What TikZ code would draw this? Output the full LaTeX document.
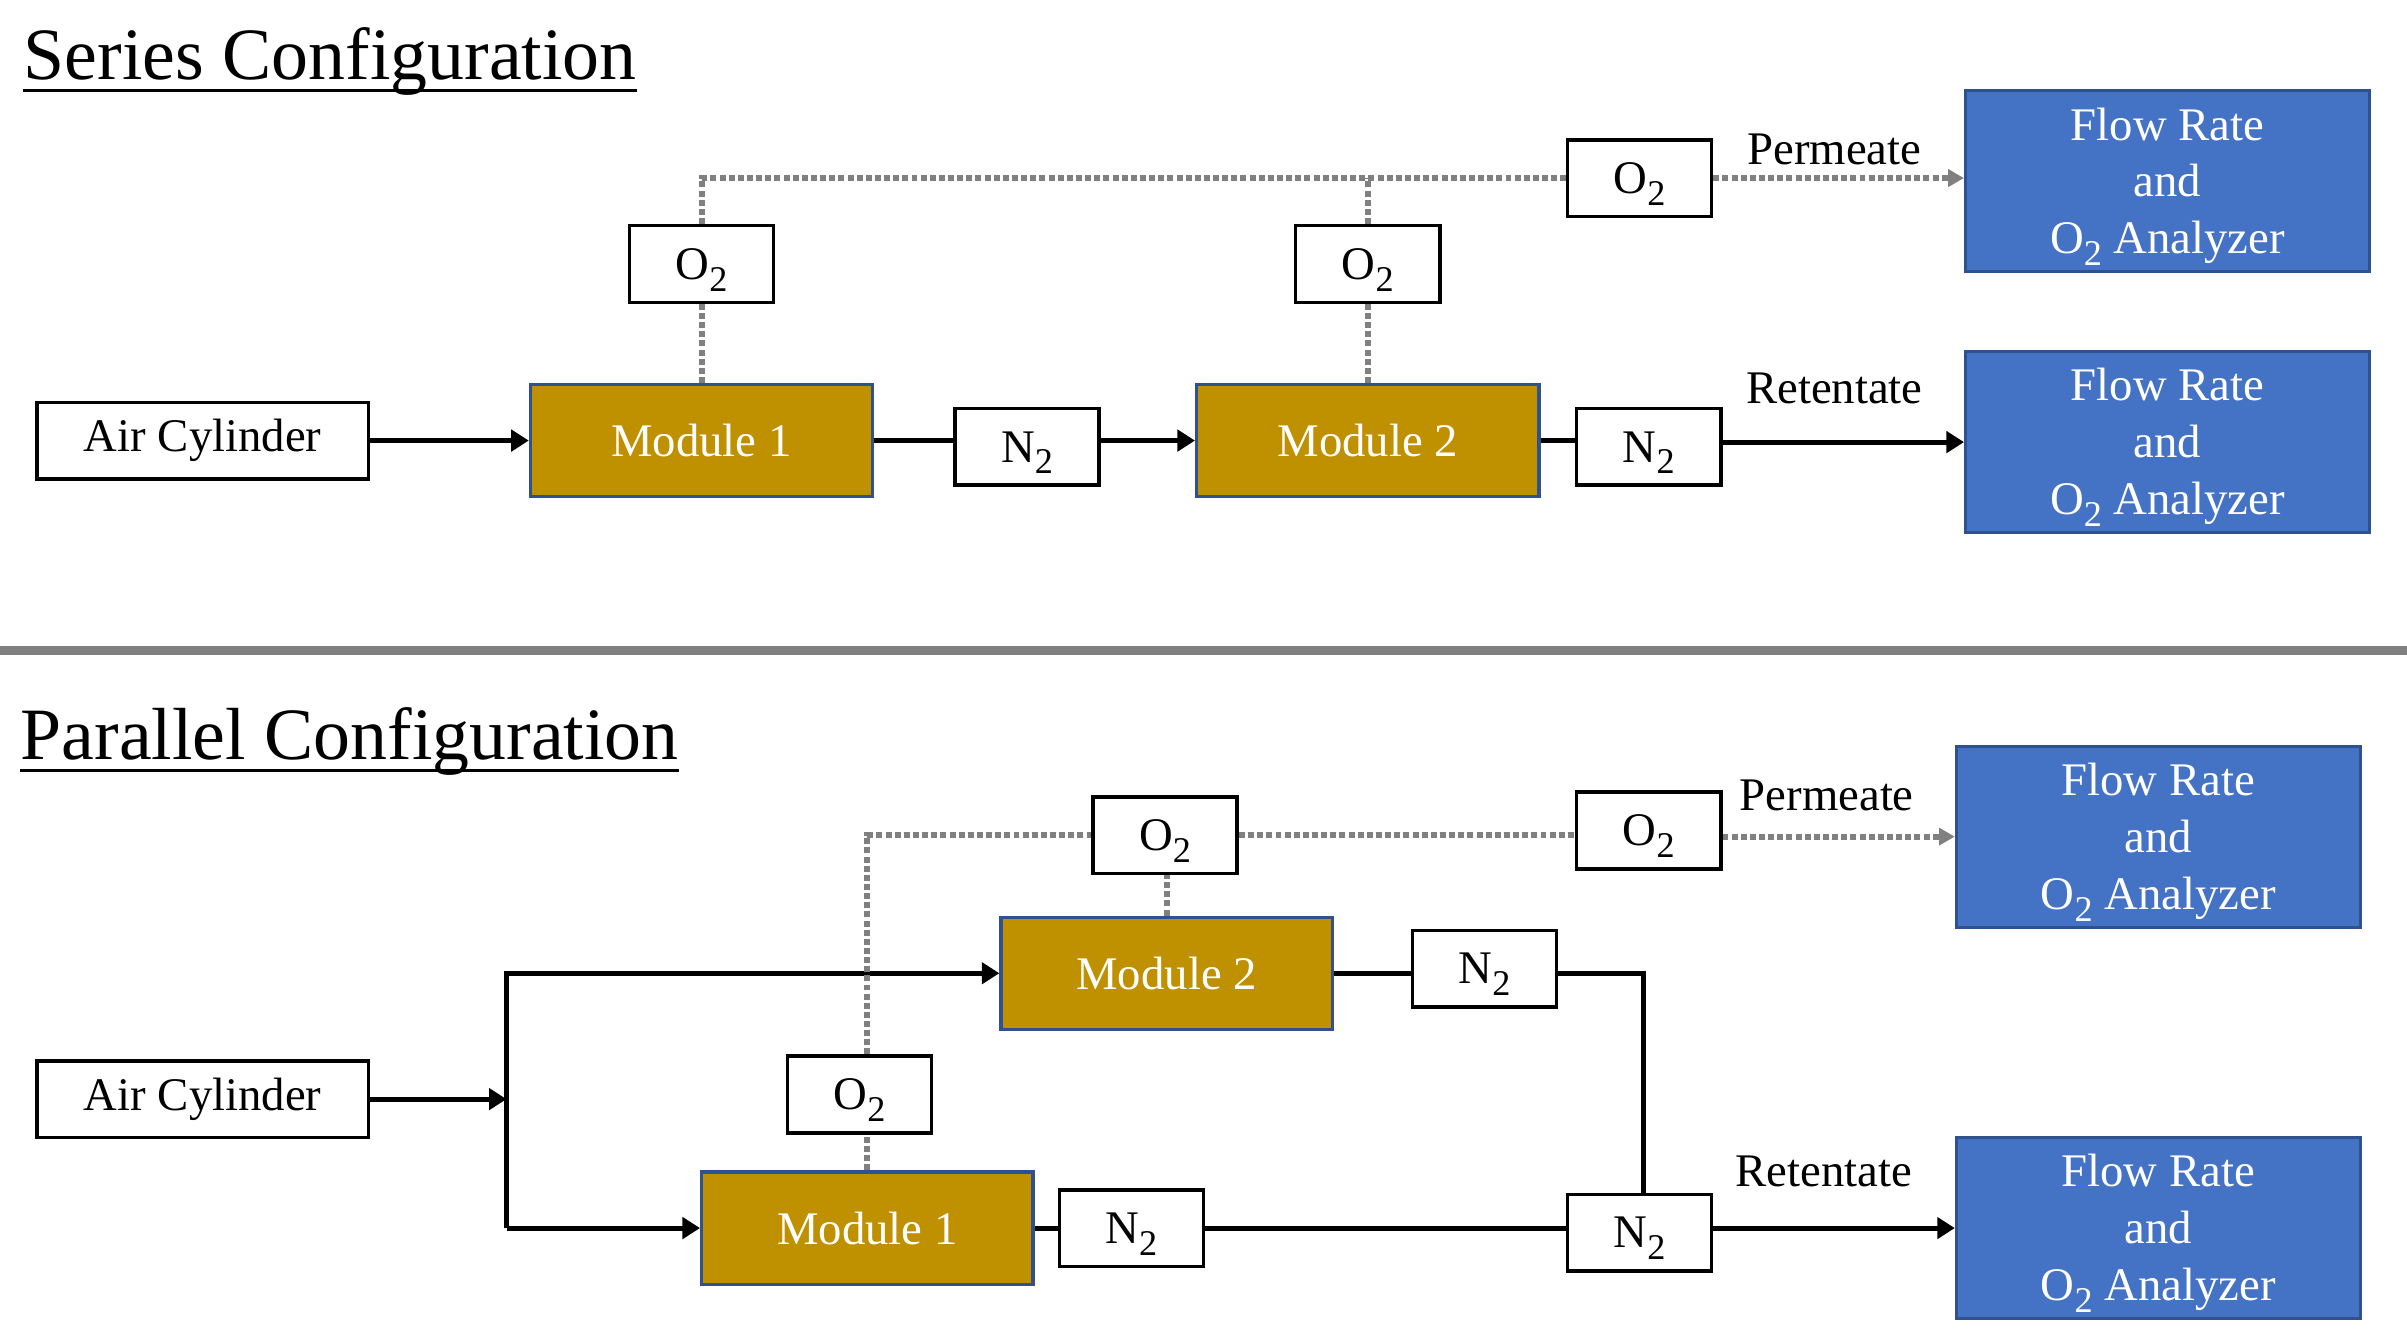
\documentclass[tikz,border=0pt]{standalone}
\usepackage{fontspec}
\setmainfont{Liberation Serif}
\usepackage{xcolor}
\usetikzlibrary{arrows.meta, positioning}

\definecolor{modgold}{HTML}{BF9000}
\definecolor{modedge}{HTML}{2F528F}
\definecolor{anblue}{HTML}{4472C4}
\definecolor{permgray}{HTML}{808080}

\newcommand{\lowtwo}{\raisebox{-3.4pt}{\fontsize{10.3}{10}\selectfont 2}}
\newcommand{\flowtext}{\rule{0pt}{12.4pt}Flow Rate\\and\\O\lowtwo{} Analyzer}

\begin{document}
\begin{tikzpicture}
    [x=0.01535cm, y=-0.01535cm,
     every node/.style={font=\fontsize{13.3}{16.2}\selectfont, inner sep=0pt},
     plain/.style={draw, line width=1pt, fill=white, minimum height=21.8pt},
     gas/.style={plain, minimum width=41pt, text depth=0pt},
     module/.style={draw=modedge, line width=0.9pt, fill=modgold, text=white, minimum height=31.9pt},
     analyzer/.style={draw=modedge, line width=0.9pt, fill=anblue, text=white, align=center,
                      minimum width=114.9pt, minimum height=51.5pt},
     pipe/.style={draw, line width=1.4pt},
     flow/.style={pipe, -{Triangle[length=5pt, width=6pt]}},
     perm/.style={draw=permgray, line width=1.7pt, dash pattern=on 1.7pt off 0.9pt},
     permflow/.style={perm, -{Triangle[length=4.5pt, width=4.8pt]}},
     heading/.style={font=\fontsize{21}{25}\selectfont, anchor=base west}]

    \useasboundingbox (0,0) rectangle (1568,873);

    % Series configuration
    \node[heading] (sertitle) at (15,52) {Series Configuration};
    \draw[line width=1pt] ([yshift=-3pt]sertitle.base west) -- ([yshift=-3pt]sertitle.base east);

    \node[plain, minimum width=94.3pt] (air1) at (132,287) {Air Cylinder};
    \node[module, minimum width=97.4pt] (m1) at (457,287) {Module 1};
    \node[gas] (n2a) at (669,291) {N\lowtwo};
    \node[module, minimum width=97.4pt] (m2) at (891,287) {Module 2};
    \node[gas] (n2b) at (1074,291) {N\lowtwo};
    \node[gas] (o2a) at (457,172) {O\lowtwo};
    \node[gas] (o2b) at (891,172) {O\lowtwo};
    \node[gas] (o2c) at (1068,116) {O\lowtwo};
    \node[analyzer] (fr1) at (1412,118) {\flowtext};
    \node[analyzer] (fr2) at (1412,288) {\flowtext};
    \node[anchor=base] (perm1) at (1195,107) {Permeate};
    \node[anchor=base] (ret1) at (1195,263) {Retentate};

    \draw[flow] (air1.east) -- (m1.west);
    \draw[pipe] (m1.east) -- (m1.east -| n2a.west);
    \draw[flow] (n2a.east |- m2.west) -- (m2.west);
    \draw[pipe] (m2.east) -- (m2.east -| n2b.west);
    \draw[flow] (n2b.east |- fr2.west) -- (fr2.west);

    \draw[perm] (m1.north) -- (o2a.south);
    \draw[perm] (o2a.north) |- (o2c.west);
    \draw[perm] (m2.north) -- (o2b.south);
    \draw[perm] (o2b.north) -- (o2b.north |- o2c.west);
    \draw[permflow] (o2c.east) -- (o2c.east -| fr1.west);

    % separator
    \draw[permgray, line width=2.6pt] (0,424) -- (1568,424);

    % Parallel configuration
    \node[heading] (partitle) at (13,495) {Parallel Configuration};
    \draw[line width=1pt] ([yshift=-3pt]partitle.base west) -- ([yshift=-3pt]partitle.base east);

    \node[plain, minimum width=94.3pt] (air2) at (132,716) {Air Cylinder};
    \coordinate (split) at (330,716);
    \node[module, minimum width=94.3pt] (m2p) at (760,634) {Module 2};
    \node[module, minimum width=94.3pt] (m1p) at (565,800) {Module 1};
    \node[gas] (o2p1) at (560,713) {O\lowtwo};
    \node[gas] (o2p2) at (759,544) {O\lowtwo};
    \node[gas] (o2p3) at (1074,541) {O\lowtwo};
    \node[gas] (n2c) at (967,631) {N\lowtwo};
    \node[gas] (n2e) at (737,800) {N\lowtwo};
    \node[gas] (n2d) at (1068,803) {N\lowtwo};
    \node[analyzer] (fr3) at (1406,545) {\flowtext};
    \node[analyzer] (fr4) at (1406,800) {\flowtext};
    \node[anchor=base] (perm2) at (1190,528) {Permeate};
    \node[anchor=base] (ret2) at (1188,773) {Retentate};

    \draw[flow] (air2.east) -- (split);
    \draw[flow] (split |- m1p.west) |- (m2p.west);
    \draw[flow] (split |- m1p.west) -- (m1p.west);
    \draw[pipe] (m2p.east) -- (m2p.east -| n2c.west);
    \draw[pipe] (n2c.east |- m2p.east) -| ([xshift=1.2pt]n2d.north);
    \draw[pipe] (m1p.east) -- (n2e.west);
    \draw[pipe] (n2e.east) -- (n2e.east -| n2d.west);
    \draw[flow] (n2d.east |- n2e.east) -- (fr4.west);

    \draw[perm] (m1p.north) -- (m1p.north |- o2p1.south);
    \draw[perm] (m1p.north |- o2p1.north) |- (o2p2.west);
    \draw[perm] (m2p.north) -- (m2p.north |- o2p2.south);
    \draw[perm] (o2p2.east) -- (o2p2.east -| o2p3.west);
    \draw[permflow] (o2p3.east |- fr3.west) -- (fr3.west);
\end{tikzpicture}
\end{document}
